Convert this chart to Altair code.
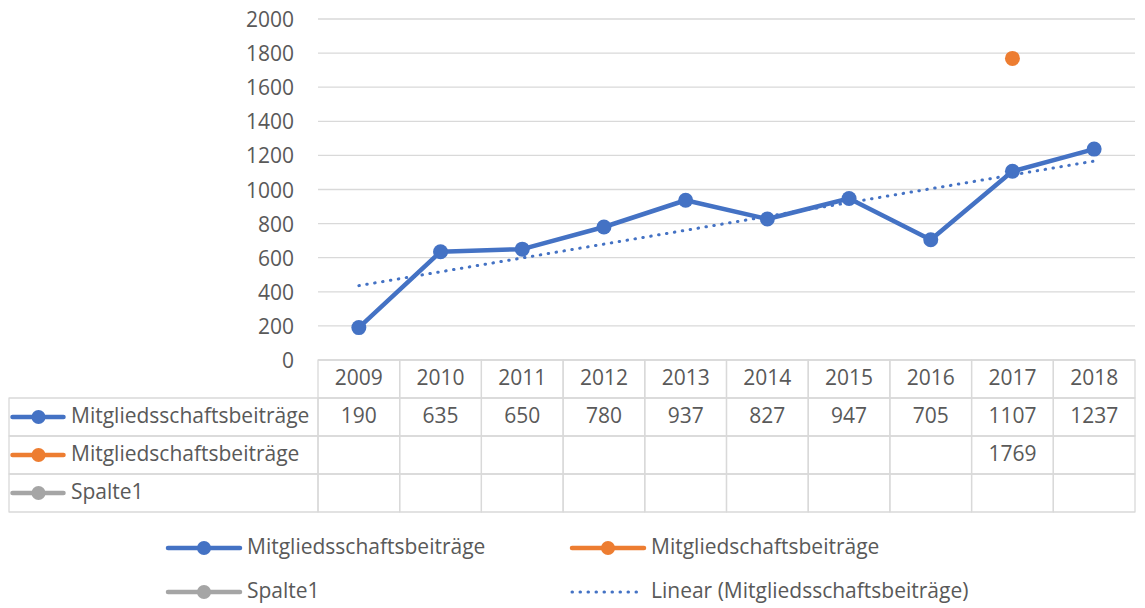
import altair as alt
import pandas as pd

# ---------------- data ----------------
years = [2009, 2010, 2011, 2012, 2013, 2014, 2015, 2016, 2017, 2018]
mitgliedsschaft = [190, 635, 650, 780, 937, 827, 947, 705, 1107, 1237]
mitgliedschaft = [None, None, None, None, None, None, None, None, 1769, None]
spalte1 = [None, None, None, None, None, None, None, None, None, None]
series_names = ["Mitgliedsschaftsbeiträge", "Mitgliedschaftsbeiträge", "Spalte1"]
series_colors = ["#4472C4", "#ED7D31", "#A5A5A5"]
trend_name = "Linear (Mitgliedsschaftsbeiträge)"
y_ticks = [0, 200, 400, 600, 800, 1000, 1200, 1400, 1600, 1800, 2000]

# ---------------- style / layout ----------------
FONT = "Open Sans"
FS = 21
TXT = "#595959"
GRID = "#D9D9D9"
W = 1126
LABEL_PX = 309
COL_PX = (W - LABEL_PX) / len(years)
LABEL_COL = LABEL_PX / COL_PX
XMIN = years[0] - 0.5 - LABEL_COL
XMAX = years[-1] + 0.5
x_scale = alt.Scale(domain=[XMIN, XMAX], nice=False, zero=False)
TOP_H = 352
y_scale = alt.Scale(domain=[0, 2000 * TOP_H / 341], nice=False, zero=True)
NOPAD = {"left": 0, "right": 0, "top": 0, "bottom": 0}

# ---------------- top chart ----------------
grid_df = pd.DataFrame({"v": y_ticks, "x0": years[0] - 0.5, "x1": years[-1] + 0.5,
                        "lab": [str(t) for t in y_ticks]})
s1_df = pd.DataFrame({"year": years, "value": mitgliedsschaft})
s2_df = pd.DataFrame({"year": years, "value": mitgliedschaft}).dropna()

grid = alt.Chart(grid_df).mark_rule(color=GRID, strokeWidth=1.3).encode(
    x=alt.X("x0:Q", scale=x_scale, axis=None),
    x2="x1:Q",
    y=alt.Y("v:Q", scale=y_scale, axis=None),
)
ylabels = alt.Chart(grid_df).mark_text(
    font=FONT, fontSize=FS, color=TXT, align="right", baseline="middle", dy=2
).encode(
    x=alt.value(LABEL_PX - 24),
    y=alt.Y("v:Q", scale=y_scale, axis=None),
    text="lab:N",
)

line1 = alt.Chart(s1_df).mark_line(
    color=series_colors[0], strokeWidth=4.5, strokeJoin="round", strokeCap="round",
    point=alt.OverlayMarkDef(filled=True, size=225, opacity=1, color=series_colors[0]),
).encode(x=alt.X("year:Q", scale=x_scale, axis=None),
         y=alt.Y("value:Q", scale=y_scale, axis=None))

pt2 = alt.Chart(s2_df).mark_point(
    filled=True, size=225, opacity=1, color=series_colors[1]
).encode(x=alt.X("year:Q", scale=x_scale, axis=None),
         y=alt.Y("value:Q", scale=y_scale, axis=None))

trend = alt.Chart(s1_df).transform_regression(
    "year", "value", method="linear", extent=[years[0], years[-1]]
).mark_line(
    color=series_colors[0], strokeWidth=3, strokeDash=[0.5, 7.5], strokeCap="round"
).encode(x=alt.X("year:Q", scale=x_scale, axis=None),
         y=alt.Y("value:Q", scale=y_scale, axis=None))

top = alt.layer(grid, ylabels, line1, pt2, trend).properties(width=W, height=TOP_H)

# ---------------- data table ----------------
row_scale = alt.Scale(domain=[0, 1, 2, 3], paddingInner=0, paddingOuter=0)
cells = []
for i, yr in enumerate(years):
    cells.append({"row": 0, "year": yr, "x0": yr - 0.5, "x1": yr + 0.5, "label": str(yr)})
    for r, vals in enumerate([mitgliedsschaft, mitgliedschaft, spalte1], start=1):
        v = vals[i]
        cells.append({"row": r, "year": yr, "x0": yr - 0.5, "x1": yr + 0.5,
                      "label": "" if v is None else str(int(v))})
for r in range(1, 4):
    cells.append({"row": r, "year": None, "x0": XMIN, "x1": years[0] - 0.5, "label": ""})
cells_df = pd.DataFrame(cells)

rows_df = pd.DataFrame({"row": [1, 2, 3], "name": series_names, "color": series_colors})

rects = alt.Chart(cells_df).mark_rect(
    fill="white", fillOpacity=0, stroke=GRID, strokeWidth=1.3, strokeJoin="round"
).encode(
    x=alt.X("x0:Q", scale=x_scale, axis=None), x2="x1:Q",
    y=alt.Y("row:O", scale=row_scale, axis=None),
)
cell_text = alt.Chart(cells_df).transform_filter("datum.label != ''").mark_text(
    font=FONT, fontSize=FS, color=TXT, baseline="middle", align="center"
).encode(
    x=alt.X("year:Q", scale=x_scale, axis=None),
    y=alt.Y("row:O", scale=row_scale, axis=None),
    text="label:N",
)
row_line = alt.Chart(rows_df).mark_point(
    shape="stroke", filled=False, size=51 * 51, strokeWidth=4.5, strokeCap="round",
    strokeJoin="round", opacity=1
).encode(x=alt.value(29), y=alt.Y("row:O", scale=row_scale, axis=None),
         color=alt.Color("color:N", scale=None))
row_dot = alt.Chart(rows_df).mark_point(filled=True, size=196, opacity=1).encode(
    x=alt.value(29.5), y=alt.Y("row:O", scale=row_scale, axis=None),
    color=alt.Color("color:N", scale=None))
row_text = alt.Chart(rows_df).mark_text(
    font=FONT, fontSize=FS, color=TXT, baseline="middle", align="left"
).encode(x=alt.value(62), y=alt.Y("row:O", scale=row_scale, axis=None), text="name:N")

table = alt.layer(rects, cell_text, row_line, row_dot, row_text).properties(width=W, height=152)

# ---------------- legend ----------------
leg_df = pd.DataFrame({
    "label": [series_names[0], series_names[1], series_names[2], trend_name],
    "color": [series_colors[0], series_colors[1], series_colors[2], series_colors[0]],
    "dash": [False, False, False, True],
    "col": [0, 1, 0, 1],
    "row": [0, 0, 1, 1],
})
lx = alt.X("col:O", scale=alt.Scale(type="point", domain=[0, 1], range=[195, 599], padding=0), axis=None)
ly = alt.Y("row:O", scale=alt.Scale(type="point", domain=[0, 1], range=[36, 80], padding=0), axis=None)
lcol = alt.Color("color:N", scale=None)

leg_line = alt.Chart(leg_df).transform_filter("!datum.dash").mark_point(
    shape="stroke", filled=False, size=72 * 72, strokeWidth=4.5, strokeCap="round",
    strokeJoin="round", opacity=1
).encode(x=lx, y=ly, color=lcol)
leg_dot = alt.Chart(leg_df).transform_filter("!datum.dash").mark_point(
    filled=True, size=196, opacity=1
).encode(x=lx, y=ly, color=lcol)
leg_dash = alt.Chart(leg_df).transform_filter("datum.dash").mark_point(
    shape="stroke", filled=False, size=72 * 72, strokeWidth=3, strokeDash=[0.5, 7.5],
    strokeCap="round", strokeJoin="round", opacity=1
).encode(x=lx, y=ly, color=lcol)
leg_text = alt.Chart(leg_df).mark_text(
    font=FONT, fontSize=FS, color=TXT, baseline="middle", align="left", dx=43
).encode(x=lx, y=ly, text="label:N")

legend = alt.layer(leg_line, leg_dot, leg_dash, leg_text).properties(width=W, height=93)

chart = alt.vconcat(top, table, legend, spacing=0, bounds="flush").properties(
    padding=NOPAD
).configure(padding=NOPAD).configure_view(stroke=None)

chart.save("out.html", embed_options={"renderer": "svg", "actions": False})
